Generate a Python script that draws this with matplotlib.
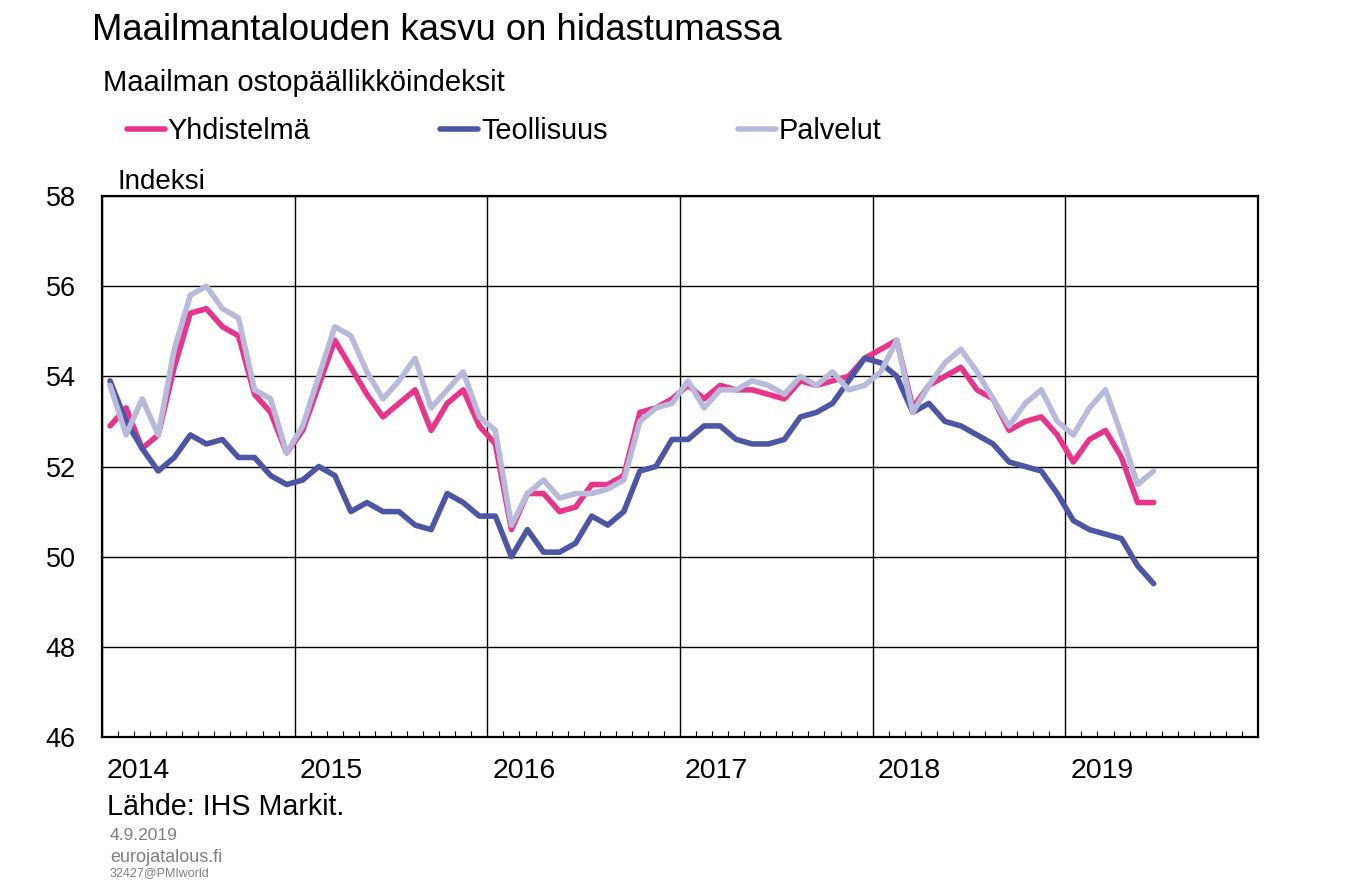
import numpy as np
import matplotlib
matplotlib.use("Agg")
import matplotlib.pyplot as plt
import matplotlib.transforms as mtransforms

# Maailman ostopäällikköindeksit, kuukausittain 1/2014 - 6/2019
yhdistelma = [52.9, 53.3, 52.4, 52.7, 54.2, 55.4, 55.5, 55.1, 54.9, 53.6, 53.2, 52.3,
              52.8, 53.8, 54.8, 54.2, 53.6, 53.1, 53.4, 53.7, 52.8, 53.4, 53.7, 52.9,
              52.5, 50.6, 51.4, 51.4, 51.0, 51.1, 51.6, 51.6, 51.8, 53.2, 53.3, 53.5,
              53.8, 53.5, 53.8, 53.7, 53.7, 53.6, 53.5, 53.9, 53.8, 53.9, 54.0, 54.4,
              54.6, 54.8, 53.3, 53.8, 54.0, 54.2, 53.7, 53.5, 52.8, 53.0, 53.1, 52.7,
              52.1, 52.6, 52.8, 52.2, 51.2, 51.2]
teollisuus = [53.9, 53.0, 52.4, 51.9, 52.2, 52.7, 52.5, 52.6, 52.2, 52.2, 51.8, 51.6,
              51.7, 52.0, 51.8, 51.0, 51.2, 51.0, 51.0, 50.7, 50.6, 51.4, 51.2, 50.9,
              50.9, 50.0, 50.6, 50.1, 50.1, 50.3, 50.9, 50.7, 51.0, 51.9, 52.0, 52.6,
              52.6, 52.9, 52.9, 52.6, 52.5, 52.5, 52.6, 53.1, 53.2, 53.4, 53.9, 54.4,
              54.3, 54.0, 53.2, 53.4, 53.0, 52.9, 52.7, 52.5, 52.1, 52.0, 51.9, 51.4,
              50.8, 50.6, 50.5, 50.4, 49.8, 49.4]
palvelut = [53.8, 52.7, 53.5, 52.7, 54.6, 55.8, 56.0, 55.5, 55.3, 53.7, 53.5, 52.3,
            52.9, 54.0, 55.1, 54.9, 54.1, 53.5, 53.9, 54.4, 53.3, 53.7, 54.1, 53.1,
            52.8, 50.7, 51.4, 51.7, 51.3, 51.4, 51.4, 51.5, 51.7, 53.0, 53.3, 53.4,
            53.9, 53.3, 53.7, 53.7, 53.9, 53.8, 53.6, 54.0, 53.8, 54.1, 53.7, 53.8,
            54.1, 54.8, 53.2, 53.8, 54.3, 54.6, 54.1, 53.5, 52.9, 53.4, 53.7, 53.0,
            52.7, 53.3, 53.7, 52.7, 51.6, 51.9]
vuodet = ["2014", "2015", "2016", "2017", "2018", "2019"]

plt.rcParams["font.family"] = ["Liberation Sans", "DejaVu Sans"]

kk = np.arange(len(yhdistelma)) + 0.5  # kuukauden keskikohta

fig = plt.figure(figsize=(13.48, 8.8), dpi=100)
ax = fig.add_axes([102 / 1348, 1 - 737 / 880, (1258 - 102) / 1348, (737 - 196) / 880])

tyyli = dict(lw=4.0, solid_capstyle="round", solid_joinstyle="round")
l1, = ax.plot(kk, yhdistelma, color="#e8348a", **tyyli)
l2, = ax.plot(kk, teollisuus, color="#4c56a4", **tyyli)
l3, = ax.plot(kk, palvelut, color="#b8badc", **tyyli)

ax.set_xlim(0, 72)
ax.set_ylim(46, 58)
ax.set_yticks(np.arange(46, 59, 2))
ax.set_xticks(np.arange(0, 72, 12))
ax.set_xticklabels(vuodet, ha="left")
ax.set_xticks(np.arange(1, 72), minor=True)
ax.grid(True, which="major", color="black", lw=1.0)
ax.tick_params(axis="y", which="major", length=0, labelsize=19.5, pad=19)
ax.tick_params(axis="x", which="major", length=0, labelsize=20.5, pad=15)
ax.tick_params(axis="x", which="minor", direction="in", length=4.5, width=0.8, top=False)
for s in ax.spines.values():
    s.set_linewidth(1.6)
offset = mtransforms.ScaledTranslation(0.05, 0, fig.dpi_scale_trans)
for lab in ax.get_xticklabels():
    lab.set_transform(lab.get_transform() + offset)

fig.text(92 / 1348, 1 - 40 / 880, "Maailmantalouden kasvu on hidastumassa", fontsize=26.3, va="baseline")
fig.text(103 / 1348, 1 - 91 / 880, "Maailman ostopäällikköindeksit", fontsize=21, va="baseline")
fig.text(117 / 1348, 1 - 189 / 880, "Indeksi", fontsize=20, va="baseline")

fig.legend([l1, l2, l3], ["Yhdistelmä", "Teollisuus", "Palvelut"], loc="center left",
           bbox_to_anchor=(127 / 1348, 1 - 131 / 880), ncol=3, frameon=False, fontsize=20.8,
           handlelength=1.31, handletextpad=0.1, columnspacing=4.5, borderpad=0, borderaxespad=0)

fig.text(107 / 1348, 1 - 815 / 880, "Lähde: IHS Markit.", fontsize=20.6, va="baseline")
fig.text(110 / 1348, 1 - 835 / 880, "4.9.2019", fontsize=12.5, color="#7f7f7f", va="center")
fig.text(110 / 1348, 1 - 857 / 880, "eurojatalous.fi", fontsize=13, color="#7f7f7f", va="center")
fig.text(110 / 1348, 1 - 873 / 880, "32427@PMIworld", fontsize=9, color="#7f7f7f", va="center")

fig.savefig("out.png", dpi=100)
